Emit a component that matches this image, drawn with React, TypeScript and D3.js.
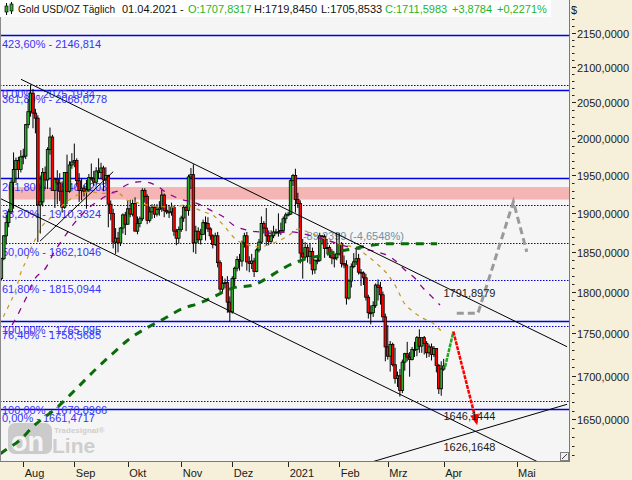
import React, { useEffect } from "react";
import * as d3 from "d3";

const W = 632;
const H = 480;
const PLOT_R = 569;
const PLOT_B = 461;
const FONT = "'Liberation Sans', Arial, sans-serif";

// Daily candles [open, high, low, close], 21.07.2020 .. 01.04.2021 (weekdays)
const candles: [number, number, number, number][] = [
  [1817, 1843, 1815, 1842], [1842, 1872, 1840, 1871], [1871, 1898, 1860, 1888], [1888, 1906, 1882, 1902],
  [1902, 1945, 1900, 1941], [1941, 1981, 1906, 1958], [1958, 1974, 1940, 1970], [1970, 1975, 1946, 1958],
  [1958, 1984, 1954, 1975],
  [1975, 1986, 1965, 1976], [1976, 2020, 1972, 2019], [2019, 2055, 2014, 2037], [2037, 2075, 2030, 2063],
  [2063, 2069, 2014, 2035], [2035, 2041, 2007, 2028], [2028, 2032, 1863, 1911], [1911, 1950, 1874, 1915],
  [1915, 1960, 1909, 1954], [1954, 1962, 1932, 1944], [1944, 1988, 1932, 1985], [1985, 2015, 1978, 2002],
  [2002, 2005, 1932, 1930], [1930, 1947, 1907, 1945], [1945, 1957, 1912, 1940], [1940, 1953, 1916, 1929],
  [1929, 1942, 1901, 1908], [1908, 1954, 1906, 1954], [1954, 1978, 1912, 1929], [1929, 1969, 1927, 1964],
  [1964, 1980, 1959, 1968],
  [1968, 1993, 1961, 1970], [1970, 1973, 1936, 1943], [1943, 1953, 1915, 1930], [1930, 1946, 1917, 1933],
  [1933, 1937, 1922, 1929], [1929, 1944, 1906, 1931], [1931, 1952, 1928, 1947], [1947, 1966, 1943, 1946],
  [1946, 1956, 1936, 1941], [1941, 1961, 1938, 1956], [1956, 1973, 1946, 1954], [1954, 1967, 1946, 1960],
  [1960, 1963, 1929, 1944], [1944, 1961, 1939, 1950], [1950, 1951, 1882, 1912], [1912, 1917, 1891, 1900],
  [1900, 1906, 1855, 1863], [1863, 1881, 1848, 1868], [1868, 1876, 1850, 1862], [1862, 1882, 1858, 1881],
  [1881, 1900, 1874, 1898], [1898, 1902, 1872, 1886],
  [1886, 1917, 1885, 1906], [1906, 1918, 1895, 1899], [1899, 1918, 1896, 1913], [1913, 1921, 1877, 1877],
  [1877, 1896, 1873, 1887], [1887, 1896, 1882, 1893], [1893, 1933, 1890, 1930], [1930, 1933, 1914, 1922],
  [1922, 1925, 1886, 1891], [1891, 1909, 1888, 1902], [1902, 1912, 1893, 1908], [1908, 1912, 1894, 1899],
  [1899, 1912, 1896, 1905], [1905, 1916, 1897, 1907], [1907, 1931, 1902, 1924], [1924, 1926, 1895, 1904],
  [1904, 1912, 1899, 1902], [1902, 1911, 1894, 1902], [1902, 1914, 1897, 1908], [1908, 1910, 1871, 1877],
  [1877, 1880, 1859, 1868], [1868, 1883, 1861, 1879],
  [1879, 1897, 1876, 1894], [1894, 1911, 1889, 1908], [1908, 1910, 1877, 1904], [1904, 1951, 1897, 1948],
  [1948, 1960, 1932, 1951], [1951, 1965, 1850, 1862], [1862, 1884, 1848, 1877], [1877, 1882, 1862, 1866],
  [1866, 1880, 1860, 1873], [1873, 1892, 1872, 1888], [1888, 1896, 1865, 1887], [1887, 1895, 1876, 1880],
  [1880, 1882, 1866, 1871], [1871, 1873, 1855, 1860], [1860, 1875, 1858, 1871], [1871, 1876, 1831, 1837],
  [1837, 1840, 1800, 1804], [1804, 1820, 1800, 1811], [1811, 1817, 1805, 1812], [1812, 1820, 1775, 1788],
  [1788, 1795, 1764, 1776],
  [1776, 1820, 1774, 1817], [1817, 1832, 1806, 1830], [1830, 1845, 1826, 1841], [1841, 1848, 1827, 1839],
  [1839, 1865, 1832, 1862], [1862, 1875, 1856, 1871], [1871, 1876, 1827, 1838], [1838, 1845, 1825, 1836],
  [1836, 1848, 1829, 1839], [1839, 1843, 1819, 1826], [1826, 1855, 1825, 1853], [1853, 1867, 1850, 1863],
  [1863, 1896, 1862, 1887], [1887, 1890, 1874, 1881], [1881, 1907, 1859, 1871], [1871, 1878, 1859, 1864],
  [1864, 1878, 1862, 1871], [1871, 1884, 1868, 1876], [1876, 1880, 1873, 1876], [1876, 1900, 1870, 1876],
  [1876, 1888, 1872, 1878], [1878, 1896, 1875, 1893], [1893, 1901, 1887, 1898],
  [1898, 1902, 1896, 1899], [1899, 1945, 1898, 1943], [1943, 1952, 1936, 1950], [1950, 1959, 1901, 1918],
  [1918, 1927, 1907, 1913], [1913, 1917, 1836, 1849], [1849, 1867, 1817, 1844], [1844, 1863, 1841, 1856],
  [1856, 1860, 1837, 1845], [1845, 1862, 1835, 1851], [1851, 1856, 1822, 1828], [1828, 1841, 1823, 1840],
  [1840, 1845, 1835, 1840], [1840, 1875, 1838, 1871], [1871, 1872, 1860, 1870], [1870, 1873, 1843, 1855],
  [1855, 1867, 1848, 1856], [1856, 1859, 1843, 1850], [1850, 1854, 1835, 1843], [1843, 1848, 1831, 1843],
  [1843, 1875, 1840, 1848],
  [1848, 1875, 1846, 1860], [1860, 1863, 1831, 1836], [1836, 1846, 1830, 1834], [1834, 1840, 1785, 1793],
  [1793, 1816, 1791, 1814], [1814, 1836, 1806, 1832], [1832, 1849, 1830, 1838], [1838, 1855, 1834, 1842],
  [1842, 1848, 1822, 1825], [1825, 1829, 1808, 1824], [1824, 1826, 1809, 1818], [1818, 1823, 1790, 1794],
  [1794, 1797, 1768, 1775], [1775, 1784, 1761, 1775], [1775, 1789, 1770, 1784], [1784, 1811, 1781, 1809],
  [1809, 1816, 1790, 1806], [1806, 1813, 1785, 1797], [1797, 1801, 1764, 1770], [1770, 1774, 1717, 1734],
  [1734, 1760, 1719, 1723], [1723, 1741, 1705, 1737], [1737, 1739, 1711, 1713], [1713, 1733, 1691, 1697],
  [1697, 1705, 1687, 1700], [1700, 1708, 1676, 1683], [1683, 1719, 1680, 1716], [1716, 1727, 1706, 1726],
  [1726, 1740, 1717, 1722], [1722, 1728, 1699, 1719], [1719, 1734, 1718, 1731], [1731, 1740, 1722, 1731],
  [1731, 1747, 1723, 1745], [1745, 1755, 1727, 1735], [1735, 1745, 1727, 1745], [1745, 1747, 1725, 1738],
  [1738, 1741, 1721, 1727], [1727, 1737, 1722, 1734], [1734, 1738, 1718, 1725], [1725, 1735, 1722, 1732],
  [1732, 1732, 1704, 1712], [1712, 1714, 1679, 1685], [1685, 1717, 1677, 1708],
  [1707.8317, 1719.845, 1705.8533, 1711.5983],
];

const monthLabels = ["Aug", "Sep", "Okt", "Nov", "Dez", "2021", "Feb", "Mrz", "Apr", "Mai"];
const monthIdx = [9, 30, 52, 74, 95, 118, 139, 159, 182, 212];

const priceTicks = [2150, 2100, 2050, 2000, 1950, 1900, 1850, 1800, 1750, 1700, 1650];

const fibLevels = [2146.814, 2075.1934, 2068.0278, 1946.6203, 1910.3324, 1862.1046, 1815.0944, 1765.095, 1758.5685, 1670.8966, 1661.4717];
const fibLabels = [
  "423,60% - 2146,814", "0,00% - 2075,1934", "361,80% - 2068,0278", "261,80% - 1946,6203",
  "38,20% - 1910,3324", "50,00% - 1862,1046", "61,80% - 1815,0944", "100,00% - 1765,095",
  "76,40% - 1758,5685", "100,00% - 1670,8966", "0,00% - 1661,4717",
];
const fibSolid = [true, false, true, true, false, false, false, true, false, false, true];

// moving averages: [bar index, price]
const maOrange: [number, number][] = [
  [0.8, 1770.2], [2.8, 1782.4], [5.6, 1800.8], [8.4, 1827.7], [10.4, 1840.3], [12.5, 1857.1], [14.5, 1869.9],
  [16.6, 1882.8], [20, 1893.6], [26.2, 1913.2], [28.9, 1919.7], [33, 1926.3], [37.2, 1928.4], [40.6, 1926.3],
  [44.7, 1926.3], [48.1, 1926.3], [51.6, 1917.5], [54.3, 1915.3], [59.8, 1911.0], [66, 1908.8], [71.4, 1908.0],
  [75.6, 1911.0], [79.7, 1906.6], [83.1, 1902.2], [87.9, 1895.7], [91.3, 1885.0], [96.8, 1865.6], [100.9, 1860.1],
  [105.7, 1857.1], [113.3, 1863.4], [118.1, 1871.2], [122.2, 1879.8], [127, 1874.7], [133.2, 1866.9], [138, 1861.3],
  [146.2, 1855.0], [151, 1844.5], [155.1, 1834.0], [158.6, 1823.5], [162.7, 1805.0], [165.4, 1788.5], [169.5, 1776.3],
  [173.6, 1768.2], [177.7, 1762.2], [181.2, 1752.2],
];
const maPurple: [number, number][] = [
  [4.4, 1760.2], [6.3, 1770.2], [8.4, 1782.4], [11.1, 1798.8], [13.1, 1813.2], [18.6, 1831.9], [21.4, 1848.7],
  [25.5, 1867.8], [28.9, 1882.8], [32.3, 1895.7], [36.5, 1908.8], [40.6, 1917.5], [44.7, 1926.3], [48.1, 1929.7],
  [50.2, 1935.0], [55, 1940.9], [58.4, 1941.7], [63.9, 1936.3], [68, 1927.1], [72.8, 1919.7], [80.4, 1913.2],
  [87.2, 1902.2], [91.3, 1895.7], [95.4, 1885.0], [100.9, 1878.5], [107.8, 1875.5], [111.9, 1874.2], [117.9, 1876.3],
  [133.6, 1865.6], [143.5, 1856.3], [154.4, 1850.7], [158.6, 1846.5], [162.7, 1838.1], [166.1, 1827.7], [170.2, 1817.4],
  [173.6, 1805.0], [177.1, 1794.7], [180.5, 1784.5],
];
const maGreen: [number, number][] = [
  [-0.5, 1611.5], [0.7, 1613.9], [7.7, 1626.9], [13, 1641.8], [23.3, 1664.5], [30.3, 1683.5], [38.5, 1706.8],
  [45.9, 1726.4], [52.1, 1742.2], [59.5, 1756.2], [66.5, 1767.0], [74.7, 1780.4], [81.7, 1786.9], [87.9, 1795.5],
  [95.3, 1805.4], [103.7, 1809.1], [109.2, 1817.4], [114.7, 1827.7], [120.1, 1836.1], [126.3, 1842.4], [132.5, 1846.5],
  [138, 1850.7], [143.5, 1853.8], [148.9, 1857.1], [155.1, 1860.1], [159.1, 1860.9], [168.1, 1860.9], [179.3, 1860.9],
];

const zoneLow = 1918.1;
const zoneHigh = 1934.6;
const zoneStartIdx = 2.8;

const upperChannel: [number, number][] = [[8.07, 2082.7], [232.8, 1734.2]];
const lowerChannel: [number, number][] = [[-0.6, 1919.7], [225, 1597.2]];
const risingSupport: [number, number][] = [[140, 1592.9], [232.8, 1667.2]];
const fibConnector: [number, number][] = [[15.9, 1864.3], [46, 1955.0]];

const grayPath: [number, number][] = [[187.4, 1774.3], [196.1, 1774.3], [210.7, 1915.3], [216.2, 1850.7]];
const greenPath: [number, number][] = [[182.6, 1710.6], [186, 1752.2]];
const redPath: [number, number][] = [[186, 1752.2], [195.6, 1645.6]];

const GREEN = "#2aae2a";
const RED = "#ff0000";

export default function App() {
  useEffect(() => {
    document.body.style.margin = "0";
  }, []);

  const x = d3.scaleLinear().domain([-0.576, 233.58]).range([0, PLOT_R]);
  const y = d3.scaleLog().domain([1603.7, 2198.9]).range([PLOT_B, 0]);

  const line = d3.line<[number, number]>().x((d) => x(d[0])).y((d) => y(d[1]));
  const smooth = d3
    .line<[number, number]>()
    .x((d) => x(d[0]))
    .y((d) => y(d[1]))
    .curve(d3.curveMonotoneX);

  const minorTicks = d3.range(1610, 2200, 10).filter((v) => v % 50 !== 0);

  // arrow head for red projection
  const rp0 = redPath[0];
  const rp1 = redPath[1];
  const ax = x(rp1[0]);
  const ay = y(rp1[1]);
  const dx = ax - x(rp0[0]);
  const dy = ay - y(rp0[1]);
  const len = Math.hypot(dx, dy);
  const ux = dx / len;
  const uy = dy / len;
  const hl = 9;
  const hw = 4.5;
  const bx = ax - ux * hl;
  const by = ay - uy * hl;
  const arrowPts = `${ax + ux * 2},${ay + uy * 2} ${bx - uy * hw},${by + ux * hw} ${bx + uy * hw},${by - ux * hw}`;

  return (
    <svg
      width={W}
      height={H}
      viewBox={`0 0 ${W} ${H}`}
      style={{ display: "block", position: "absolute", left: 0, top: 0 }}
      fontFamily={FONT}
    >
      <defs>
        <clipPath id="plot">
          <rect x={0} y={0} width={PLOT_R} height={PLOT_B} />
        </clipPath>
      </defs>
      {/* backgrounds */}
      <rect x={0} y={0} width={W} height={H} fill="#f6efd9" />
      <rect x={0} y={0} width={PLOT_R} height={PLOT_B} fill="#f5f5f5" />

      <g clipPath="url(#plot)">
        {/* resistance zone */}
        <rect
          x={x(zoneStartIdx)}
          y={y(zoneHigh)}
          width={PLOT_R - x(zoneStartIdx)}
          height={y(zoneLow) - y(zoneHigh)}
          fill="#f5b5b5"
        />

        {/* fibonacci levels */}
        {fibLevels.map((v, i) => (
          <line
            key={"f" + i}
            x1={0}
            x2={PLOT_R}
            y1={Math.round(y(v)) + 0.5}
            y2={Math.round(y(v)) + 0.5}
            stroke={fibSolid[i] ? "#0000e0" : "#0000d0"}
            strokeWidth={fibSolid[i] ? 1.3 : 1.2}
            strokeDasharray={fibSolid[i] ? undefined : "1.5,1.5"}
          />
        ))}
        {fibLevels.map((v, i) => (
          <text key={"fl" + i} x={2} y={y(v) + 13} fontSize={11} fill="#3434ff">
            {fibLabels[i]}
          </text>
        ))}

        <text x={x(124.1)} y={y(1866.3)} fontSize={11} fill="#6b93ab">
          -89,2399 (-4,6548%)
        </text>

        {/* watermark */}
        <g opacity={0.75}>
          <rect x={8} y={423} width={44} height={31} rx={7} fill="#bdbdbd" />
          <text x={11} y={451} fontSize={27} fontWeight="bold" fill="#f5f5f5">on</text>
          <text x={52} y={453} fontSize={21} fontWeight="bold" fill="#c2c2c2">Line</text>
          <text x={54} y={433} fontSize={8} fontWeight="bold" fill="#c2c2c2">Tradesignal®</text>
        </g>

        {/* candles */}
        {candles.map(([o, h, l, c], i) => {
          const cx = x(i);
          const top = y(Math.max(o, c));
          const bot = y(Math.min(o, c));
          return (
            <g key={"c" + i}>
              <line x1={cx} x2={cx} y1={y(h)} y2={y(l)} stroke="#000" strokeWidth={1} />
              <rect
                x={cx - 1.3}
                y={top}
                width={2.6}
                height={Math.max(1, bot - top)}
                fill={c >= o ? GREEN : RED}
                stroke="#000"
                strokeWidth={0.8}
              />
            </g>
          );
        })}

        {/* moving averages */}
        <path d={smooth(maOrange) || ""} fill="none" stroke="#c8961e" strokeWidth={1.2} strokeDasharray="4,5" />
        <path d={smooth(maPurple) || ""} fill="none" stroke="#8b008b" strokeWidth={1.3} strokeDasharray="6,7" />
        <path d={smooth(maGreen) || ""} fill="none" stroke="#0b6b0b" strokeWidth={3} strokeDasharray="8,7" />

        {/* trend lines */}
        {[upperChannel, lowerChannel, risingSupport, fibConnector].map((seg, i) => (
          <path key={"t" + i} d={line(seg) || ""} fill="none" stroke="#000" strokeWidth={1} />
        ))}

        {/* projections */}
        <path d={line(grayPath) || ""} fill="none" stroke="#9a9a9a" strokeWidth={3} strokeDasharray="7,4" />
        <path d={line(greenPath) || ""} fill="none" stroke="#22a822" strokeWidth={2.5} strokeDasharray="4,1" />
        <path d={line(redPath) || ""} fill="none" stroke="#ff0000" strokeWidth={2.5} strokeDasharray="4,1" />
        <polygon points={arrowPts} fill="#ff0000" />

        <text x={x(181.9)} y={y(1791.8979) - 2} fontSize={11} fill="#1a1a1a">1791,8979</text>
        <text x={x(181.9)} y={y(1646.1444) - 3} fontSize={11} fill="#1a1a1a">1646,1444</text>
        <text x={x(181.9)} y={y(1626.1648) + 10} fontSize={11} fill="#1a1a1a">1626,1648</text>

        {/* resize corner */}
        <rect x={560.5} y={452.5} width={8} height={8} fill="#f0f0f0" stroke="#808080" strokeWidth={1} />
        <line x1={562} y1={459} x2={567} y2={454} stroke="#404040" strokeWidth={1} />
      </g>

      {/* borders */}
      <line x1={0.5} y1={0} x2={0.5} y2={PLOT_B} stroke="#8a8a8a" />
      <line x1={PLOT_R + 0.5} y1={0} x2={PLOT_R + 0.5} y2={PLOT_B + 1} stroke="#7a7a7a" />
      <line x1={0} y1={PLOT_B + 0.5} x2={PLOT_R + 1} y2={PLOT_B + 0.5} stroke="#7a7a7a" />

      {/* right price axis */}
      <text x={571} y={14} fontSize={11} fill="#1a1a1a">$</text>
      {minorTicks.map((v) => (
        <line key={"m" + v} x1={572} x2={574.5} y1={Math.round(y(v)) + 0.5} y2={Math.round(y(v)) + 0.5} stroke="#222" />
      ))}
      {priceTicks.map((v) => (
        <g key={"p" + v}>
          <line x1={572} x2={576} y1={Math.round(y(v)) + 0.5} y2={Math.round(y(v)) + 0.5} stroke="#222" />
          <text x={577} y={y(v) + 5} fontSize={11} fill="#1a1a1a">
            {d3.format(".4f")(v).replace(".", ",")}
          </text>
        </g>
      ))}

      {/* bottom time axis */}
      {monthIdx.map((m, i) => (
        <g key={"x" + i}>
          <line x1={Math.round(x(m)) + 0.5} x2={Math.round(x(m)) + 0.5} y1={462} y2={467} stroke="#222" />
          <text x={x(m) + 1.5} y={477} fontSize={11} fill="#1a1a1a">
            {monthLabels[i]}
          </text>
        </g>
      ))}

      {/* header */}
      <rect x={0} y={0} width={551} height={17} fill="#ffffff" />
      <g>
        <line x1={6.5} y1={3} x2={6.5} y2={15} stroke="#000" />
        <rect x={5} y={6} width={3} height={6} fill="#2fae2f" stroke="#000" strokeWidth={0.7} />
        <line x1={11.5} y1={2} x2={11.5} y2={14} stroke="#000" />
        <rect x={10} y={4} width={3} height={7} fill="#2fae2f" stroke="#000" strokeWidth={0.7} />
      </g>
      <text y={13} fontSize={11} fill="#111">
        <tspan x={18} textLength={97} lengthAdjust="spacingAndGlyphs">Gold USD/OZ Täglich</tspan>
        <tspan x={122}>01.04.2021 -</tspan>
        <tspan x={188} fill="#1fb51f">O:1707,8317</tspan>
        <tspan x={254}>H:1719,8450</tspan>
        <tspan x={321}>L:1705,8533</tspan>
        <tspan x={385} fill="#1fb51f">C:1711,5983</tspan>
        <tspan x={452} fill="#1fb51f">+3,8784</tspan>
        <tspan x={497} fill="#1fb51f">+0,2271%</tspan>
      </text>
    </svg>
  );
}
